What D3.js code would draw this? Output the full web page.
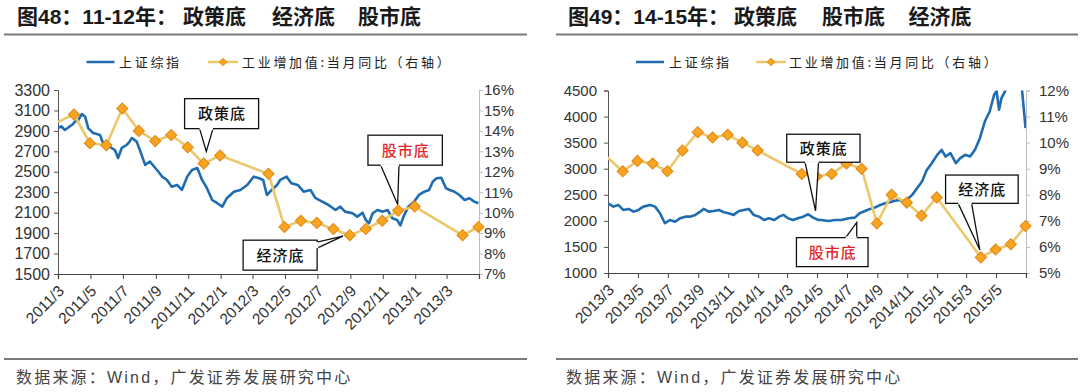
<!DOCTYPE html>
<html><head><meta charset="utf-8">
<script src="https://cdn.jsdelivr.net/npm/d3@7"></script>
<style>body{margin:0;background:#fff}svg{display:block}</style>
</head><body><svg id="c" width="1080" height="392"></svg>
<script>
// ---------------- DATA ----------------
const titleLeft = ["图48：11-12年：", "政策底", "经济底", "股市底"];
const titleRight = ["图49：14-15年：", "政策底", "股市底", "经济底"];
const legendNames = ["上证综指", "工业增加值:当月同比（右轴）"];
const sourceText = "数据来源：Wind，广发证券发展研究中心";

const xTicksLeft = ["2011/3","2011/5","2011/7","2011/9","2011/11","2012/1","2012/3","2012/5","2012/7","2012/9","2012/11","2013/1","2013/3"];
const xEndLeft = "2013/5";
const xTicksRight = ["2013/3","2013/5","2013/7","2013/9","2013/11","2014/1","2014/3","2014/5","2014/7","2014/9","2014/11","2015/1","2015/3","2015/5"];
const xEndRight = "2015/7";

const yLeftTicksL = [1500,1700,1900,2100,2300,2500,2700,2900,3100,3300];
const yRightTicksL = [7,8,9,10,11,12,13,14,15,16];
const yLeftTicksR = [1000,1500,2000,2500,3000,3500,4000,4500];
const yRightTicksR = [5,6,7,8,9,10,11,12];

// 上证综指 2011/3 - 2013/4
const sse1112 = [["2011-03-01",2928],["2011-03-07",2945],["2011-03-14",2909],["2011-03-21",2935],["2011-03-27",2957],["2011-04-02",2990],["2011-04-08",3006],["2011-04-15",3065],["2011-04-21",3039],["2011-04-27",2925],["2011-05-02",2900],["2011-05-06",2879],["2011-05-13",2870],["2011-05-19",2860],["2011-05-24",2790],["2011-05-28",2762],["2011-06-07",2742],["2011-06-16",2713],["2011-06-22",2635],["2011-06-29",2733],["2011-07-08",2762],["2011-07-13",2790],["2011-07-18",2830],["2011-07-27",2795],["2011-08-02",2713],["2011-08-12",2567],["2011-08-21",2600],["2011-08-31",2537],["2011-09-06",2500],["2011-09-13",2452],["2011-09-22",2420],["2011-10-01",2354],["2011-10-11",2371],["2011-10-20",2322],["2011-10-30",2452],["2011-11-08",2517],["2011-11-18",2537],["2011-11-27",2420],["2011-12-06",2342],["2011-12-16",2224],["2011-12-25",2195],["2012-01-04",2159],["2012-01-13",2244],["2012-01-26",2305],["2012-02-07",2322],["2012-02-20",2371],["2012-03-03",2452],["2012-03-12",2439],["2012-03-21",2420],["2012-03-28",2273],["2012-04-06",2322],["2012-04-16",2371],["2012-04-22",2420],["2012-05-04",2452],["2012-05-13",2387],["2012-05-25",2371],["2012-06-05",2305],["2012-06-18",2322],["2012-06-27",2244],["2012-07-10",2208],["2012-07-22",2175],["2012-08-04",2126],["2012-08-13",2159],["2012-08-22",2110],["2012-09-05",2094],["2012-09-14",2061],["2012-09-24",2100],["2012-09-30",2029],["2012-10-06",1996],["2012-10-13",2094],["2012-10-22",2126],["2012-11-01",2110],["2012-11-10",2126],["2012-11-19",2045],["2012-11-28",2029],["2012-12-04",1975],["2012-12-10",2061],["2012-12-19",2159],["2012-12-30",2208],["2013-01-08",2273],["2013-01-18",2305],["2013-01-27",2322],["2013-02-03",2403],["2013-02-10",2436],["2013-02-19",2442],["2013-02-28",2339],["2013-03-07",2322],["2013-03-16",2305],["2013-03-25",2273],["2013-04-04",2224],["2013-04-13",2241],["2013-04-22",2208],["2013-04-30",2192]];

// 工业增加值:当月同比 (%), month-end dates
const ip1112 = [["2011-01-31",14.1],["2011-03-31",14.8],["2011-04-30",13.4],["2011-05-31",13.3],["2011-06-30",15.1],["2011-07-31",14.0],["2011-08-31",13.5],["2011-09-30",13.8],["2011-10-31",13.2],["2011-11-30",12.4],["2011-12-31",12.8],["2012-03-31",11.9],["2012-04-30",9.3],["2012-05-31",9.6],["2012-06-30",9.5],["2012-07-31",9.2],["2012-08-31",8.9],["2012-09-30",9.2],["2012-10-31",9.6],["2012-11-30",10.1],["2012-12-31",10.3],["2013-03-31",8.9],["2013-04-30",9.3]];

// 上证综指 2013/3 - 2015/6
const sse1415 = [["2013-03-01",2338],["2013-03-12",2273],["2013-03-22",2306],["2013-04-01",2210],["2013-04-12",2229],["2013-04-22",2177],["2013-05-02",2210],["2013-05-12",2273],["2013-05-26",2306],["2013-06-05",2273],["2013-06-15",2146],["2013-06-25",1954],["2013-07-05",2017],["2013-07-16",1985],["2013-07-26",2050],["2013-08-06",2081],["2013-08-16",2081],["2013-08-26",2114],["2013-09-05",2177],["2013-09-12",2229],["2013-09-22",2177],["2013-10-02",2190],["2013-10-13",2210],["2013-10-23",2165],["2013-11-02",2146],["2013-11-12",2114],["2013-11-23",2190],["2013-12-03",2210],["2013-12-13",2229],["2013-12-23",2114],["2014-01-03",2081],["2014-01-13",2017],["2014-01-23",2050],["2014-02-03",2017],["2014-02-13",2081],["2014-02-22",2114],["2014-03-03",2050],["2014-03-13",2017],["2014-03-23",2050],["2014-04-03",2081],["2014-04-13",2127],["2014-04-23",2062],["2014-05-04",2017],["2014-05-10",2017],["2014-05-24",1998],["2014-06-07",2017],["2014-06-20",2017],["2014-07-04",2050],["2014-07-17",2062],["2014-07-27",2146],["2014-08-07",2190],["2014-08-17",2229],["2014-08-27",2254],["2014-09-07",2306],["2014-09-17",2338],["2014-10-01",2369],["2014-10-14",2402],["2014-10-28",2382],["2014-11-11",2498],["2014-11-21",2626],["2014-12-01",2753],["2014-12-11",2978],["2014-12-21",3106],["2015-01-01",3266],["2015-01-10",3362],["2015-01-18",3234],["2015-01-28",3298],["2015-02-08",3106],["2015-02-17",3202],["2015-02-27",3266],["2015-03-09",3234],["2015-03-19",3362],["2015-03-29",3586],["2015-04-08",3905],["2015-04-18",4097],["2015-04-27",4417],["2015-05-02",4494],["2015-05-07",4130],["2015-05-12",4354],["2015-05-19",4480],["2015-05-26",4700],["2015-06-03",4900],["2015-06-10",5100],["2015-06-17",4800],["2015-06-23",4500],["2015-06-27",4100],["2015-06-30",3780]];

const ip1415 = [["2013-01-31",9.9],["2013-03-31",8.9],["2013-04-30",9.3],["2013-05-31",9.2],["2013-06-30",8.9],["2013-07-31",9.7],["2013-08-31",10.4],["2013-09-30",10.2],["2013-10-31",10.3],["2013-11-30",10.0],["2013-12-31",9.7],["2014-03-31",8.8],["2014-04-30",8.7],["2014-05-31",8.8],["2014-06-30",9.2],["2014-07-31",9.0],["2014-08-31",6.9],["2014-09-30",8.0],["2014-10-31",7.7],["2014-11-30",7.2],["2014-12-31",7.9],["2015-03-31",5.6],["2015-04-30",5.9],["2015-05-31",6.1],["2015-06-30",6.8]];

// callouts: tip at (date, right-axis value)
const notesLeft = [
  {text:"政策底", date:"2011-12-05", value:13.0, red:false, box:[-21.7,-52.7,74,30], base:[[-6.7,-22.7],[6.7,-22.7]]},
  {text:"股市底", date:"2012-11-29", value:10.4, red:true, box:[-29.7,-69.3,74.4,30], base:[[-17,-39.3],[1.3,-39.3]]},
  {text:"经济底", date:"2012-08-18", value:8.85, red:false, box:[-99.8,4,74,30], base:[[-25.8,6],[-25.8,12]]}
];
const notesRight = [
  {text:"政策底", date:"2014-04-28", value:7.38, red:false, box:[-28.8,-76.7,73.3,28], base:[[-10.5,-48.7],[3,-48.7]]},
  {text:"股市底", date:"2014-07-21", value:6.94, red:true, box:[-60.3,15.2,71.6,29], base:[[-11,15.2],[0,15.2]]},
  {text:"经济底", date:"2015-03-29", value:5.88, red:false, box:[-34.3,-75,72.6,28.3], base:[[-21.7,-46.7],[-8.3,-46.7]]}
];

// ---------------- DRAW ----------------
const svg = d3.select("#c");
const defs = svg.append("defs");
const parseD = d3.timeParse("%Y-%m-%d");
const parseM = d3.timeParse("%Y/%m");
const BLUE = "#1f6db0", GOLD = "#ebc86c", DFILL = "#f7a51f", DSTROKE = "#e0861a";
const NUM = "'Liberation Sans', Arial, sans-serif";
const CJK = "'Noto Sans CJK SC', sans-serif";

function panel(cfg) {
  const g = svg.append("g");
  // title
  const t = g.append("text").attr("y", 24).attr("font-size", 21).attr("font-weight", "bold")
    .attr("fill", "#1a1a1a").attr("font-family", "'Liberation Sans','Noto Sans CJK SC',sans-serif");
  cfg.title.forEach((s, i) => t.append("tspan").attr("x", cfg.titleX[i]).text(s));
  g.append("line").attr("x1", cfg.rule[0]).attr("x2", cfg.rule[1]).attr("y1", 34.5).attr("y2", 34.5)
    .attr("stroke", "#7a7a7a").attr("stroke-width", 2);
  g.append("line").attr("x1", cfg.rule[0]).attr("x2", cfg.rule[1]).attr("y1", 359).attr("y2", 359)
    .attr("stroke", "#7a7a7a").attr("stroke-width", 2);
  g.append("text").attr("x", cfg.srcX).attr("y", 383).attr("font-size", 16).attr("fill", "#444")
    .attr("letter-spacing", 2.2).attr("font-family", "'Liberation Sans','Noto Sans CJK SC',sans-serif").text(sourceText);

  // legend
  const L = cfg.legend;
  g.append("line").attr("x1", L[0]).attr("x2", L[0] + 28).attr("y1", 62).attr("y2", 62).attr("stroke", BLUE).attr("stroke-width", 2.5);
  g.append("text").attr("x", L[1]).attr("y", 67).attr("font-size", 13).attr("letter-spacing", 2.7)
    .attr("font-family", CJK).attr("fill", "#222").text(legendNames[0]);
  g.append("line").attr("x1", L[2]).attr("x2", L[2] + 30).attr("y1", 62).attr("y2", 62).attr("stroke", GOLD).attr("stroke-width", 2.5);
  g.append("path").attr("d", d3.symbol(d3.symbolSquare, 30)()).attr("transform", `translate(${L[2] + 15},62) rotate(45)`)
    .attr("fill", DFILL).attr("stroke", DSTROKE).attr("stroke-width", 0.8);
  g.append("text").attr("x", L[3]).attr("y", 67).attr("font-size", 13).attr("letter-spacing", 2.7)
    .attr("font-family", CJK).attr("fill", "#222").text(legendNames[1]);

  // scales
  const x = d3.scaleTime().domain([parseM(cfg.xTicks[0]), parseM(cfg.xEnd)]).range([cfg.x0, cfg.x1]);
  const yL = d3.scaleLinear().domain([cfg.yLT[0], cfg.yLT[cfg.yLT.length - 1]]).range([cfg.yB, cfg.yT]);
  const yR = d3.scaleLinear().domain([cfg.yRT[0], cfg.yRT[cfg.yRT.length - 1]]).range([cfg.yB, cfg.yT]);

  // clip
  defs.append("clipPath").attr("id", cfg.id).append("rect")
    .attr("x", cfg.x0).attr("y", cfg.yT).attr("width", cfg.x1 - cfg.x0).attr("height", cfg.yB - cfg.yT);

  // axes
  const axL = g.append("g").attr("transform", `translate(${cfg.x0},0)`)
    .call(d3.axisLeft(yL).tickValues(cfg.yLT).tickSize(4).tickPadding(cfg.padL).tickFormat(d3.format("d")));
  axL.selectAll("path,line").attr("stroke", "#555");
  axL.selectAll("text").attr("font-size", cfg.fsL).attr("font-family", NUM).attr("fill", "#333");

  const axR = g.append("g").attr("transform", `translate(${cfg.x1},0)`)
    .call(d3.axisRight(yR).tickValues(cfg.yRT).tickSize(4).tickPadding(cfg.padR).tickFormat(d => d + "%"));
  axR.selectAll("path,line").attr("stroke", "#bdbdbd");
  axR.selectAll("text").attr("font-size", cfg.fsR).attr("font-family", NUM).attr("fill", "#333");

  const tickDates = cfg.xTicks.map(parseM).concat([parseM(cfg.xEnd)]);
  const axB = g.append("g").attr("transform", `translate(0,${cfg.yB})`)
    .call(d3.axisBottom(x).tickValues(tickDates).tickSize(5).tickFormat(""));
  axB.selectAll("path,line").attr("stroke", "#444");
  axB.select("path").attr("stroke-width", 1.2);
  g.append("g").selectAll("text").data(cfg.xTicks).join("text")
    .attr("transform", d => `translate(${x(parseM(d)) + 7},${cfg.yB + 18}) rotate(-45)`)
    .attr("text-anchor", "end").attr("font-size", 15.5).attr("font-family", NUM).attr("fill", "#333")
    .text(d => d);

  // series
  const plot = g.append("g").attr("clip-path", `url(#${cfg.id})`);
  plot.append("path").datum(cfg.sse)
    .attr("d", d3.line().x(d => x(parseD(d[0]))).y(d => yL(d[1])))
    .attr("fill", "none").attr("stroke", BLUE).attr("stroke-width", 2.6).attr("stroke-linejoin", "round");
  plot.append("path").datum(cfg.ip)
    .attr("d", d3.line().x(d => x(parseD(d[0]))).y(d => yR(d[1])))
    .attr("fill", "none").attr("stroke", GOLD).attr("stroke-width", 2.6);
  const [d0, d1] = x.domain();
  g.append("g").selectAll("path").data(cfg.ip.filter(d => parseD(d[0]) >= d0 && parseD(d[0]) <= d1)).join("path")
    .attr("d", d3.symbol(d3.symbolSquare, 62)())
    .attr("transform", d => `translate(${x(parseD(d[0]))},${yR(d[1])}) rotate(45)`)
    .attr("fill", DFILL).attr("stroke", DSTROKE).attr("stroke-width", 1);

  // callouts
  cfg.notes.forEach(n => {
    const tx = x(parseD(n.date)), ty = yR(n.value);
    const [bx, by, bw, bh] = n.box;
    const c = g.append("g");
    c.append("rect").attr("x", tx + bx).attr("y", ty + by).attr("width", bw).attr("height", bh)
      .attr("fill", "#fff").attr("stroke", "#111").attr("stroke-width", 1.3);
    const p1 = [tx + n.base[0][0], ty + n.base[0][1]], p2 = [tx + n.base[1][0], ty + n.base[1][1]];
    c.append("path").attr("d", `M${p1}L${tx},${ty}L${p2}`).attr("fill", "#fff").attr("stroke", "#111").attr("stroke-width", 1.3);
    c.append("line").attr("x1", p1[0]).attr("y1", p1[1]).attr("x2", p2[0]).attr("y2", p2[1])
      .attr("stroke", "#fff").attr("stroke-width", 2.2);
    c.append("text").attr("x", tx + bx + bw / 2 + 0.5).attr("y", ty + by + bh / 2 + 5.5)
      .attr("text-anchor", "middle").attr("font-size", 15).attr("letter-spacing", 1)
      .attr("font-family", CJK).attr("font-weight", 500).attr("fill", n.red ? "#e0262b" : "#111").text(n.text);
  });
}

panel({
  id: "clipL", title: titleLeft, titleX: [17, 183, 272, 358], rule: [4, 527], srcX: 16,
  legend: [86.5, 119, 208, 242],
  x0: 58, x1: 479, yT: 90, yB: 274,
  xTicks: xTicksLeft, xEnd: xEndLeft, yLT: yLeftTicksL, yRT: yRightTicksL,
  padL: 4, padR: 1, fsL: 16, fsR: 15,
  sse: sse1112, ip: ip1112, notes: notesLeft
});
panel({
  id: "clipR", title: titleRight, titleX: [568, 734, 822, 908.5], rule: [556, 1078], srcX: 566,
  legend: [636, 669, 756, 789],
  x0: 608, x1: 1026, yT: 90.5, yB: 273,
  xTicks: xTicksRight, xEnd: xEndRight, yLT: yLeftTicksR, yRT: yRightTicksR,
  padL: 7, padR: 9, fsL: 15, fsR: 15,
  sse: sse1415, ip: ip1415, notes: notesRight
});
</script>
</body></html>
